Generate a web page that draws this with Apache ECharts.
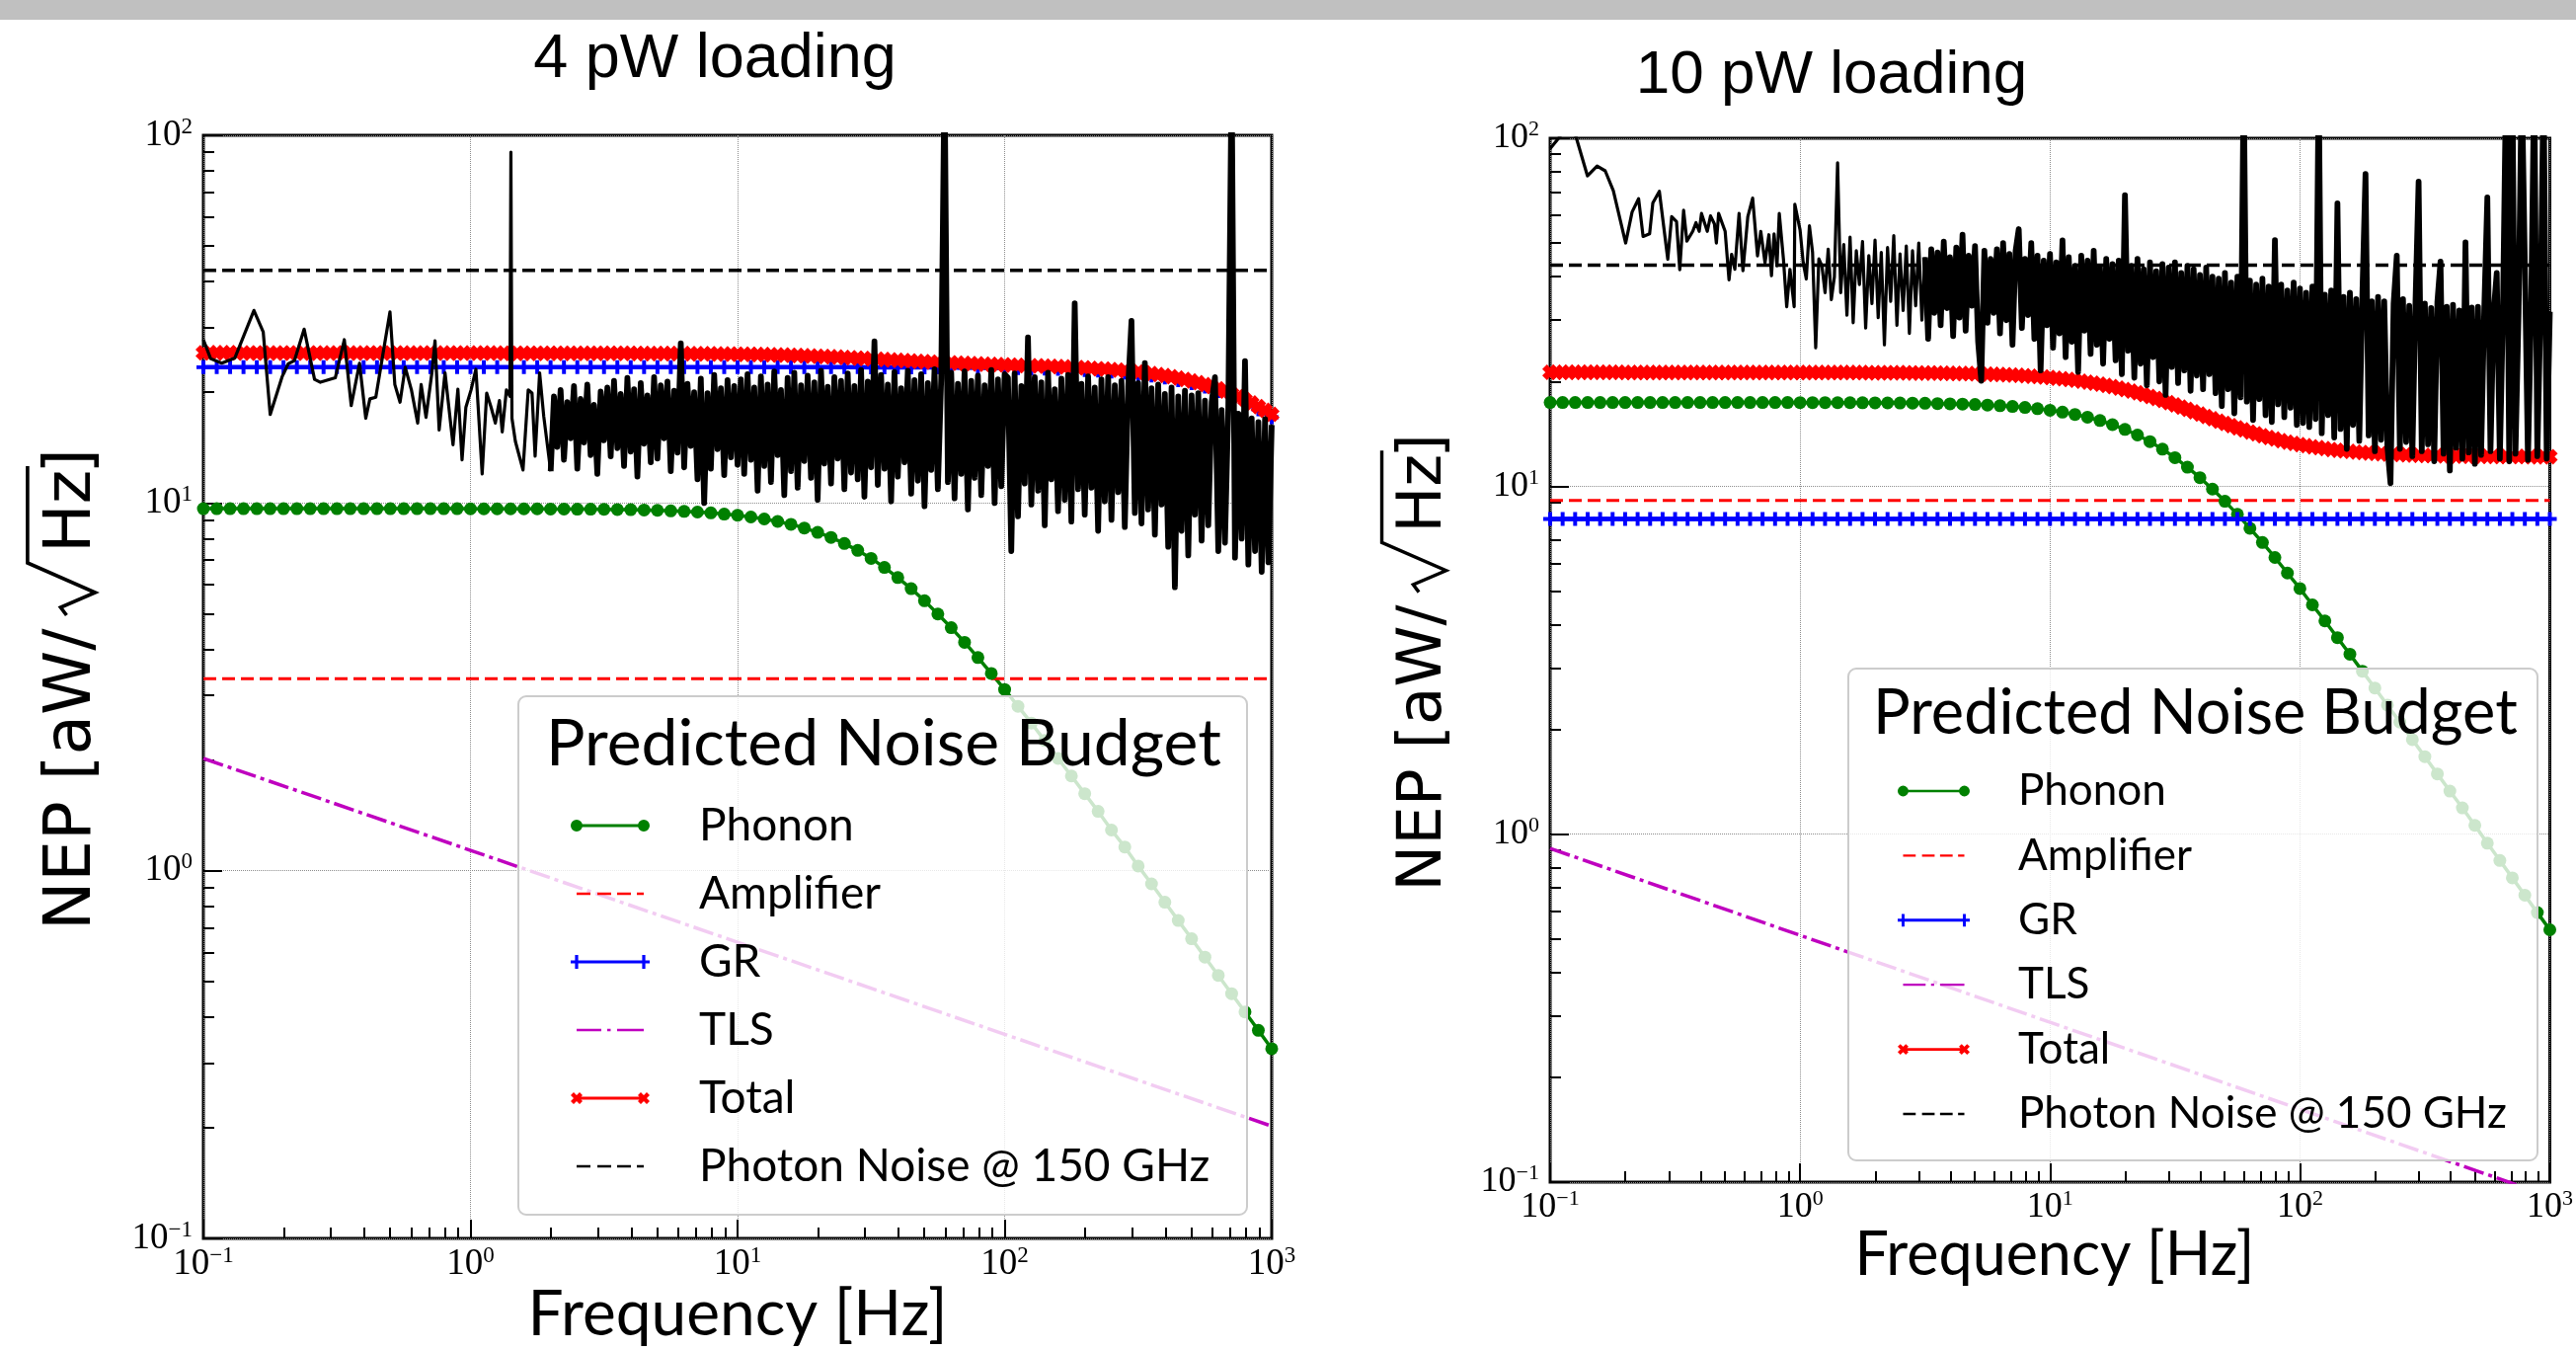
<!DOCTYPE html>
<html><head><meta charset="utf-8">
<script src="https://cdn.jsdelivr.net/npm/echarts@6/dist/echarts.min.js"></script>
<style>html,body{margin:0;padding:0;background:#fff}#c{width:2609px;height:1367px}</style>
</head><body><div id="c"></div><script>
// ---------------- DATA ----------------
const decadeTicks = [0.1, 1, 10, 100, 1000];
const minorTicksX = [0.2,0.3,0.4,0.5,0.6,0.7,0.8,0.9,2,3,4,5,6,7,8,9,20,30,40,50,60,70,80,90,200,300,400,500,600,700,800,900];
const minorTicksY = [0.2,0.3,0.4,0.5,0.6,0.7,0.8,0.9,2,3,4,5,6,7,8,9,20,30,40,50,60,70,80,90];

const freqModel = [
0.1,0.1122,0.1259,0.1413,0.1585,0.1778,0.1995,0.2239,0.2512,0.2818,
0.3162,0.3548,0.3981,0.4467,0.5012,0.5623,0.6310,0.7079,0.7943,0.8913,
1,1.122,1.259,1.413,1.585,1.778,1.995,2.239,2.512,2.818,
3.162,3.548,3.981,4.467,5.012,5.623,6.310,7.079,7.943,8.913,
10,11.22,12.59,14.13,15.85,17.78,19.95,22.39,25.12,28.18,
31.62,35.48,39.81,44.67,50.12,56.23,63.10,70.79,79.43,89.13,
100,112.2,125.9,141.3,158.5,177.8,199.5,223.9,251.2,281.8,
316.2,354.8,398.1,446.7,501.2,562.3,631.0,707.9,794.3,891.3,
1000];

const freqTotal = [
0.1,0.1059,0.1122,0.1189,0.1259,0.1334,0.1413,0.1496,0.1585,0.1679,
0.1778,0.1884,0.1995,0.2113,0.2239,0.2371,0.2512,0.2661,0.2818,0.2985,
0.3162,0.3350,0.3548,0.3758,0.3981,0.4217,0.4467,0.4732,0.5012,0.5309,
0.5623,0.5957,0.6310,0.6683,0.7079,0.7499,0.7943,0.8414,0.8913,0.9441,
1,1.059,1.122,1.189,1.259,1.334,1.413,1.496,1.585,1.679,
1.778,1.884,1.995,2.113,2.239,2.371,2.512,2.661,2.818,2.985,
3.162,3.350,3.548,3.758,3.981,4.217,4.467,4.732,5.012,5.309,
5.623,5.957,6.310,6.683,7.079,7.499,7.943,8.414,8.913,9.441,
10,10.59,11.22,11.89,12.59,13.34,14.13,14.96,15.85,16.79,
17.78,18.84,19.95,21.13,22.39,23.71,25.12,26.61,28.18,29.85,
31.62,33.50,35.48,37.58,39.81,42.17,44.67,47.32,50.12,53.09,
56.23,59.57,63.10,66.83,70.79,74.99,79.43,84.14,89.13,94.41,
100,105.9,112.2,118.9,125.9,133.4,141.3,149.6,158.5,167.9,
177.8,188.4,199.5,211.3,223.9,237.1,251.2,266.1,281.8,298.5,
316.2,335.0,354.8,375.8,398.1,421.7,446.7,473.2,501.2,530.9,
562.3,595.7,631.0,668.3,707.9,749.9,794.3,841.4,891.3,944.1,
1000];

const freqDense = [
1,1.029,1.059,1.090,1.122,1.155,1.189,1.223,1.259,1.296,
1.334,1.372,1.413,1.454,1.496,1.540,1.585,1.631,1.679,1.728,
1.778,1.830,1.884,1.939,1.995,2.054,2.113,2.175,2.239,2.304,
2.371,2.441,2.512,2.585,2.661,2.738,2.818,2.901,2.985,3.073,
3.162,3.255,3.350,3.447,3.548,3.652,3.758,3.868,3.981,4.097,
4.217,4.340,4.467,4.597,4.732,4.870,5.012,5.158,5.309,5.464,
5.623,5.788,5.957,6.131,6.310,6.494,6.683,6.879,7.079,7.286,
7.499,7.718,7.943,8.175,8.414,8.660,8.913,9.173,9.441,9.716,
10,10.29,10.59,10.90,11.22,11.55,11.89,12.23,12.59,12.96,
13.34,13.72,14.13,14.54,14.96,15.40,15.85,16.31,16.79,17.28,
17.78,18.30,18.84,19.39,19.95,20.54,21.13,21.75,22.39,23.04,
23.71,24.41,25.12,25.85,26.61,27.38,28.18,29.01,29.85,30.73,
31.62,32.55,33.50,34.47,35.48,36.52,37.58,38.68,39.81,40.97,
42.17,43.40,44.67,45.97,47.32,48.70,50.12,51.58,53.09,54.64,
56.23,57.88,59.57,61.31,63.10,64.94,66.83,68.79,70.79,72.86,
74.99,77.18,79.43,81.75,84.14,86.60,89.13,91.73,94.41,97.16,
100,102.9,105.9,109.0,112.2,115.5,118.9,122.3,125.9,129.6,
133.4,137.2,141.3,145.4,149.6,154.0,158.5,163.1,167.9,172.8,
177.8,183.0,188.4,193.9,199.5,205.4,211.3,217.5,223.9,230.4,
237.1,244.1,251.2,258.5,266.1,273.8,281.8,290.1,298.5,307.3,
316.2,325.5,335.0,344.7,354.8,365.2,375.8,386.8,398.1,409.7,
421.7,434.0,446.7,459.7,473.2,487.0,501.2,515.8,530.9,546.4,
562.3,578.8,595.7,613.1,631.0,649.4,668.3,687.9,707.9,728.6,
749.9,771.8,794.3,817.5,841.4,866.0,891.3,917.3,944.1,971.6,
1000];

const lineEnds = [0.1, 1000];
const tlsFreq = [0.1, 1, 10, 100, 1000];

// ----- 4 pW loading -----
const phonon4 = [
9.65,9.65,9.65,9.65,9.65,9.65,9.65,9.65,9.65,9.65,
9.65,9.65,9.65,9.65,9.65,9.65,9.65,9.65,9.65,9.65,
9.64,9.64,9.64,9.64,9.64,9.64,9.63,9.63,9.62,9.62,
9.61,9.60,9.59,9.57,9.55,9.52,9.49,9.45,9.40,9.33,
9.26,9.16,9.05,8.91,8.75,8.55,8.32,8.06,7.76,7.43,
7.07,6.68,6.27,5.85,5.42,4.99,4.58,4.18,3.80,3.44,
3.11,2.80,2.52,2.26,2.02,1.81,1.62,1.45,1.29,1.16,
1.03,0.921,0.821,0.732,0.653,0.582,0.519,0.463,0.413,0.368,
0.328];
const gr4 = [
23.4,23.4,23.4,23.4,23.4,23.4,23.4,23.4,23.4,23.4,
23.4,23.4,23.4,23.4,23.4,23.4,23.4,23.4,23.4,23.4,
23.4,23.4,23.4,23.4,23.4,23.4,23.4,23.4,23.4,23.4,
23.4,23.4,23.4,23.4,23.4,23.4,23.4,23.4,23.4,23.4,
23.4,23.4,23.4,23.4,23.4,23.4,23.4,23.4,23.4,23.4,
23.39,23.39,23.38,23.38,23.37,23.37,23.36,23.35,23.34,23.32,
23.30,23.27,23.24,23.20,23.15,23.08,23.00,22.90,22.78,22.63,
22.43,22.21,21.93,21.59,21.19,20.71,20.16,19.52,18.79,17.98,
17.10];
const total4 = [
25.61,25.61,25.60,25.60,25.60,25.60,25.59,25.59,25.59,25.59,
25.59,25.59,25.59,25.58,25.58,25.58,25.58,25.58,25.58,25.57,
25.57,25.57,25.57,25.57,25.57,25.57,25.57,25.57,25.57,25.56,
25.56,25.56,25.56,25.56,25.56,25.56,25.56,25.56,25.56,25.56,
25.56,25.56,25.56,25.56,25.56,25.55,25.55,25.55,25.55,25.55,
25.55,25.54,25.54,25.54,25.54,25.54,25.54,25.53,25.53,25.53,
25.53,25.53,25.53,25.52,25.52,25.51,25.51,25.51,25.50,25.50,
25.49,25.48,25.48,25.47,25.46,25.45,25.44,25.43,25.42,25.40,
25.39,25.37,25.36,25.34,25.32,25.29,25.27,25.24,25.21,25.17,
25.14,25.10,25.06,25.02,24.97,24.93,24.88,24.83,24.77,24.72,
24.66,24.61,24.55,24.50,24.44,24.38,24.33,24.27,24.22,24.17,
24.13,24.08,24.04,24.00,23.96,23.92,23.88,23.84,23.81,23.77,
23.74,23.71,23.68,23.64,23.61,23.58,23.55,23.51,23.48,23.44,
23.39,23.35,23.30,23.24,23.18,23.12,23.06,22.98,22.89,22.80,
22.70,22.59,22.48,22.34,22.20,22.04,21.86,21.67,21.46,21.23,
20.99,20.73,20.44,20.14,19.81,19.46,19.09,18.70,18.29,17.86,
17.42];
const amp4 = [3.33, 3.33];
const photon4 = [42.9, 42.9];
const tls4 = [2.02, 1.136, 0.639, 0.359, 0.202];

const freqLow4 = [
0.1,0.1064,0.1171,0.1312,0.1546,0.1675,0.1779,0.1974,0.2077,0.2193,
0.2384,0.2607,0.2742,0.3118,0.3370,0.3577,0.3842,0.4055,0.4202,0.4421,
0.4693,0.4996,0.5209,0.5448,0.5697,0.6011,0.6344,0.6537,0.6816,0.7170,
0.7366,0.7634,0.8030,0.8603,0.8972,0.9300,0.9610,1.005,1.048,1.106,
1.150,1.195,1.239,1.284,1.315,1.363,1.405,1.417,1.430,1.473,
1.573,1.645,1.700,1.746,1.815,1.881,1.997];
const low4 = [
27.8,24.7,24.0,24.8,33.4,29.2,17.4,22.1,23.9,24.4,
29.7,21.7,21.3,21.9,27.8,18.4,24.0,17.0,19.2,19.4,
25.2,33.1,21.0,18.8,23.4,20.3,16.5,21.0,17.1,22.6,
27.6,15.8,22.6,14.4,20.4,13.1,18.2,20.3,23.1,12.0,
19.9,18.2,16.5,19.0,15.6,20.3,19.5,90,17.0,14.7,
12.3,20.3,19.9,13.4,22.6,17.2,12.2];
// measured NEP on freqDense from 2.054 Hz (index 25) to 1000 Hz
const dense4 = [
19.5,14.2,20.3,13.1,18.8,15.0,20.8,12.4,19.2,14.6,21.0,13.5,18.5,12.0,20.1,14.8,
20.6,13.4,21.5,14.1,19.8,12.6,21.9,13.8,20.4,11.8,21.2,14.5,19.6,12.9,22.0,13.2,20.9,15.0,21.4,12.2,
20.2,13.7,27.2,12.5,21.1,14.3,20.0,11.6,21.8,10.0,19.9,12.4,22.3,14.0,20.5,11.9,21.6,13.3,20.8,12.7,
21.7,12.0,22.4,13.1,20.6,10.8,22.1,12.6,21.0,11.4,22.8,13.5,20.3,10.5,21.9,12.2,22.6,11.0,20.9,13.0,
22.2,11.7,21.3,10.2,22.9,12.8,20.7,11.3,22.0,13.2,21.5,10.9,22.5,12.1,20.8,11.6,23.0,10.4,21.4,12.5,
27.5,11.2,22.3,12.4,21.0,10.1,22.7,11.8,20.5,12.9,22.9,10.6,21.6,11.5,22.4,9.8,21.2,12.3,23.1,10.9,
21.8,150,11.4,22.6,10.3,21.1,12.0,22.8,9.6,21.5,11.7,22.2,10.5,20.9,12.6,23.0,10.0,21.7,11.1,22.4,
21.9,7.4,22.5,9.2,20.8,11.3,28.2,9.9,22.0,10.8,21.3,8.7,22.6,11.6,20.4,9.5,21.8,10.2,22.3,8.9,
34.9,10.9,21.1,9.3,22.1,11.0,20.6,8.4,21.7,10.1,22.0,9.0,20.9,10.7,21.5,8.6,20.7,31.3,9.4,21.2,
8.8,24.0,9.6,20.5,8.2,21.0,9.9,19.8,7.6,20.6,5.9,19.5,8.4,20.2,7.2,19.6,9.3,19.9,7.9,19.0,8.7,18.8,22.0,7.4,
17.9,7.8,18.2,150,7.1,17.5,8.0,24.3,6.8,17.0,7.4,16.6,6.5,16.9,6.9,16.3];

// ----- 10 pW loading -----
const phonon10 = [
17.40,17.40,17.40,17.40,17.40,17.40,17.40,17.40,17.40,17.40,
17.40,17.40,17.40,17.40,17.40,17.40,17.40,17.40,17.40,17.40,
17.39,17.39,17.39,17.38,17.38,17.37,17.36,17.35,17.34,17.33,
17.31,17.28,17.25,17.22,17.17,17.11,17.04,16.95,16.84,16.70,
16.53,16.33,16.08,15.79,15.44,15.03,14.56,14.03,13.43,12.78,
12.08,11.34,10.58,9.81,9.05,8.30,7.57,6.89,6.24,5.63,
5.08,4.56,4.10,3.67,3.29,2.94,2.63,2.35,2.10,1.87,
1.67,1.49,1.33,1.19,1.06,0.942,0.840,0.749,0.668,0.595,
0.531];
const gr10 = [
8.05,8.05,8.05,8.05,8.05,8.05,8.05,8.05,8.05,8.05,
8.05,8.05,8.05,8.05,8.05,8.05,8.05,8.05,8.05,8.05,
8.05,8.05,8.05,8.05,8.05,8.05,8.05,8.05,8.05,8.05,
8.05,8.05,8.05,8.05,8.05,8.05,8.05,8.05,8.05,8.05,
8.05,8.05,8.05,8.05,8.05,8.05,8.05,8.05,8.05,8.05,
8.05,8.05,8.05,8.05,8.05,8.05,8.05,8.05,8.05,8.05,
8.05,8.05,8.05,8.05,8.05,8.05,8.05,8.05,8.05,8.05,
8.05,8.05,8.05,8.05,8.05,8.05,8.05,8.05,8.05,8.05,
8.05];
const total10 = [
21.24,21.24,21.24,21.24,21.24,21.24,21.24,21.24,21.24,21.24,
21.24,21.24,21.23,21.23,21.23,21.23,21.23,21.23,21.23,21.23,
21.23,21.23,21.23,21.23,21.23,21.23,21.23,21.23,21.23,21.23,
21.23,21.23,21.23,21.23,21.23,21.23,21.23,21.23,21.22,21.22,
21.22,21.22,21.22,21.22,21.22,21.21,21.21,21.21,21.21,21.20,
21.20,21.19,21.19,21.19,21.18,21.18,21.18,21.17,21.16,21.16,
21.15,21.14,21.13,21.11,21.10,21.09,21.07,21.06,21.04,21.01,
20.99,20.96,20.93,20.90,20.86,20.82,20.77,20.71,20.66,20.59,
20.52,20.44,20.36,20.26,20.16,20.04,19.92,19.79,19.65,19.49,
19.33,19.15,18.96,18.76,18.56,18.34,18.11,17.87,17.63,17.38,
17.13,16.88,16.62,16.36,16.11,15.86,15.62,15.38,15.15,14.93,
14.71,14.51,14.32,14.14,13.97,13.81,13.66,13.52,13.39,13.28,
13.17,13.07,12.98,12.90,12.82,12.75,12.69,12.64,12.59,12.54,
12.50,12.46,12.43,12.40,12.38,12.35,12.33,12.31,12.29,12.27,
12.26,12.25,12.24,12.23,12.22,12.21,12.21,12.20,12.20,12.19,
12.19,12.18,12.18,12.18,12.17,12.17,12.17,12.16,12.16,12.16,
12.16];
const amp10 = [9.1, 9.1];
const photon10 = [43.2, 43.2];
const tls10 = [0.91, 0.512, 0.288, 0.162, 0.091];

const freqLow10 = [
0.1,0.1093,0.1178,0.1269,0.1410,0.1541,0.1661,0.1790,0.2005,0.2128,
0.2259,0.2355,0.2500,0.2576,0.2735,0.2956,0.3064,0.3204,0.3301,0.3420,
0.3524,0.3720,0.3833,0.3949,0.4033,0.4254,0.4383,0.4543,0.4625,0.4722,
0.5015,0.5197,0.5323,0.5484,0.5701,0.5908,0.6179,0.6461,0.6757,0.6963,
0.7240,0.7504,0.7685,0.7870,0.8085,0.8257,0.8582,0.8842,0.9111,0.9471,
0.9528];
const low10 = [
93.4,101,112,101,78.0,83.2,80.6,70.7,50.0,61.4,
67.0,52.2,53.1,65.2,70.4,44.9,59.5,57.6,41.9,62.1,
50.6,54.0,57.2,54.0,60.8,54.0,59.8,56.7,50.0,60.8,
54.0,39.2,46.4,42.0,60.8,41.6,59.5,67.3,45.9,54.0,
43.9,52.8,40.3,53.1,43.0,60.8,44.9,32.8,42.0,32.8,
64.6];
// measured NEP on freqDense from 1 Hz to 1000 Hz
const dense10 = [
54.5,44.0,39.4,56.0,47.0,25.0,45.0,43.0,36.0,48.0,34.4,40.0,85.0,
36.0,49.5,31.0,52.0,29.5,47.5,38.0,50.5,28.5,46.0,33.5,51.0,30.5,47.0,25.5,48.5,34.0,52.5,29.0,46.5,32.0,49.0,27.5,47.5,33.0,50.0,30.0,45.5,26.5,48.0,31.5,
47.0,29.0,50.5,32.5,45.5,27.0,48.5,30.5,52.8,28.0,46.0,33.0,49.0,26.0,20.1,47.5,29.5,45.0,31.5,48.0,27.5,50.0,30.0,46.5,25.5,47.5,54.8,28.5,45.0,31.0,50.0,26.5,46.0,21.5,44.5,29.0,
46.5,25.0,44.0,27.5,50.9,23.5,45.5,26.0,43.0,21.3,46.0,28.0,44.5,24.0,47.5,25.5,42.5,22.5,45.0,26.5,43.5,
23.0,44.5,21.0,68.6,24.5,43.0,20.5,45.0,22.5,42.0,19.5,44.0,23.5,41.5,20.0,43.5,18.3,42.5,22.0,44.0,19.8,41.0,21.5,43.0,18.8,42.0,20.8,40.5,19.0,42.5,21.0,40.0,
18.5,39.5,17.0,41.0,19.0,38.5,16.2,40.0,18.0,150,17.5,39.0,15.5,38.0,17.8,39.5,16.0,37.5,15.3,51.0,17.2,38.0,15.8,36.5,16.8,38.5,15.0,37.0,
15.2,36.0,14.8,37.5,15.6,150,14.2,35.5,16.0,36.5,13.8,65.0,14.6,35.0,12.8,36.0,15.0,34.5,13.5,35.5,79.0,14.0,34.0,12.6,35.0,
13.6,34.0,13.0,10.2,33.5,46.0,12.8,34.5,13.4,33.0,12.2,34.0,75.0,12.6,33.5,13.2,32.5,11.8,33.8,44.2,12.4,32.8,11.1,33.2,12.9,32.0,12.0,50.2,12.5,32.6,11.6,
32.8,12.3,32.0,67.6,12.6,31.5,41.0,12.0,32.2,150,11.8,150,12.4,31.8,150,44.0,11.9,31.6,150,12.2,31.9,150,12.0,31.7];

const legendNames = ['Phonon','Amplifier','GR','TLS','Total','Photon Noise @ 150 GHz'];

// ---------------- STYLE / BUILD ----------------
const zip = (xs, ys) => xs.map((x, i) => [x, ys[i]]);

const PLUS = 'path://M4.3,0L7.7,0L7.7,4.3L12,4.3L12,7.7L7.7,7.7L7.7,12L4.3,12L4.3,7.7L0,7.7L0,4.3L4.3,4.3Z';
const XMARK = 'path://M3.6,0L12,8.4L8.4,12L0,3.6Z M12,3.6L3.6,12L0,8.4L8.4,0Z';
const ENDS = 'M0,6.95L0.05,6.95L0.05,7.05L0,7.05Z M79.95,6.95L80,6.95L80,7.05L79.95,7.05Z ';
const ICONS = {
  'Phonon': 'path://M6,5.5L74,5.5L74,8.5L6,8.5Z M0,7A6,6 0 1,1 12,7A6,6 0 1,1 0,7Z M68,7A6,6 0 1,1 80,7A6,6 0 1,1 68,7Z',
  'Amplifier': 'path://' + ENDS + 'M6,5.75L20,5.75L20,8.25L6,8.25Z M27,5.75L41,5.75L41,8.25L27,8.25Z M47,5.75L61,5.75L61,8.25L47,8.25Z M67,5.75L74,5.75L74,8.25L67,8.25Z',
  'GR': 'path://M0,5.4L80,5.4L80,8.6L0,8.6Z M4.4,0L7.6,0L7.6,14L4.4,14Z M72.4,0L75.6,0L75.6,14L72.4,14Z',
  'TLS': 'path://' + ENDS + 'M6,5.75L31,5.75L31,8.25L6,8.25Z M37,5.75L40.5,5.75L40.5,8.25L37,8.25Z M47,5.75L74,5.75L74,8.25L47,8.25Z',
  'Total': 'path://M6,5.5L74,5.5L74,8.5L6,8.5Z M3,1L12,10L9,13L0,4Z M12,4L3,13L0,10L9,1Z M71,1L80,10L77,13L68,4Z M80,4L71,13L68,10L77,1Z',
  'Photon Noise @ 150 GHz': 'path://' + ENDS + 'M6,5.75L20,5.75L20,8.25L6,8.25Z M27,5.75L41,5.75L41,8.25L27,8.25Z M47,5.75L61,5.75L61,8.25L47,8.25Z M67,5.75L74,5.75L74,8.25L67,8.25Z'
};
const COLORS = {'Phonon':'#008000','Amplifier':'#ff0000','GR':'#0000ff','TLS':'#bf00bf','Total':'#ff0000','Photon Noise @ 150 GHz':'#000000'};

function fmtPow(v) {
  const e = Math.round(Math.log10(v));
  return '{b|10}{s|' + (e < 0 ? '\u2212' + (-e) : String(e)) + '}';
}
function richFor(fs) {
  return {
    b: {fontFamily:'Liberation Serif', fontSize:fs, color:'#000', lineHeight:fs + 3},
    s: {fontFamily:'Liberation Serif', fontSize:Math.round(fs * 0.62), color:'#000', verticalAlign:'top', lineHeight:Math.round(fs * 0.62) + 1}
  };
}
function mainAxis(g, dir, fs) {
  const isX = dir === 'x';
  return {
    type:'log', logBase:10, gridIndex:g,
    min: isX ? decadeTicks[0] : 0.1, max: isX ? decadeTicks[4] : 100,
    position: isX ? 'bottom' : 'left',
    axisLine:{show:false},
    axisTick:{show:true, inside:true, length:19, lineStyle:{color:'#000', width:2}},
    axisLabel:{show:true, margin: isX ? 6 : 11, formatter:fmtPow, rich:richFor(fs), showMinLabel:true, showMaxLabel:true},
    splitLine:{show:true, lineStyle:{color:'#8c8c8c', width:1, type:'dotted'}},
    minorTick:{show:false}, minorSplitLine:{show:false}, z:1
  };
}
function minorAxis(g, dir) {
  const isX = dir === 'x';
  return {
    type:'log', logBase:10, gridIndex:g,
    min:0.1, max: isX ? 1000 : 100,
    position: isX ? 'bottom' : 'left',
    axisLine:{show:false},
    axisTick:{show:true, inside:true, length:11, customValues: isX ? minorTicksX : minorTicksY, lineStyle:{color:'#000', width:2}},
    axisLabel:{show:false}, splitLine:{show:false}, z:1
  };
}
function buildSeries(ai, set) {
  const base = {type:'line', xAxisIndex:ai, yAxisIndex:ai, silent:true, clip:true};
  return [
    Object.assign({}, base, {name:'Phonon', data:zip(freqModel, set.phonon), symbol:'circle', symbolSize:13,
      lineStyle:{color:COLORS['Phonon'], width:3.5}, itemStyle:{color:COLORS['Phonon'], borderWidth:0}, z:2}),
    Object.assign({}, base, {name:'Amplifier', data:zip(lineEnds, set.amp), symbol:'none',
      lineStyle:{color:'#ff0000', width:3, type:[13,6]}, itemStyle:{color:'#ff0000'}, z:2}),
    Object.assign({}, base, {name:'GR', data:zip(freqModel, set.gr), symbol:PLUS, symbolSize:14,
      lineStyle:{color:'#0000ff', width:4.5}, itemStyle:{color:'#0000ff', borderWidth:0}, z:2}),
    Object.assign({}, base, {name:'TLS', data:zip(tlsFreq, set.tls), symbol:'none',
      lineStyle:{color:'#bf00bf', width:3.5, type:[21,5,4,5]}, itemStyle:{color:'#bf00bf'}, z:2}),
    Object.assign({}, base, {name:'Total', data:zip(freqTotal, set.total), symbol:XMARK, symbolSize:16,
      lineStyle:{color:'#ff0000', width:4.5}, itemStyle:{color:'#ff0000', borderWidth:0}, z:2}),
    Object.assign({}, base, {name:'Photon Noise @ 150 GHz', data:zip(lineEnds, set.photon), symbol:'none',
      lineStyle:{color:'#000', width:3.5, type:[13,6]}, itemStyle:{color:'#000'}, z:2}),
    // measured trace: sparse low-frequency part (thin) and dense FFT part (overplotted -> heavier stroke)
    Object.assign({}, base, {name:set.dataName, data:set.dataLow, symbol:'none',
      lineStyle:{color:'#000', width:3.2, join:'round'}, itemStyle:{color:'#000'}, z:3}),
    Object.assign({}, base, {name:set.dataName + ' ', data:set.dataDense, symbol:'none',
      lineStyle:{color:'#000', width:5.8, join:'round'}, itemStyle:{color:'#000'}, z:3})
  ];
}
const low4Pts = zip(freqLow4, low4);
const dense4Pts = zip(freqDense.slice(25), dense4);
const low10Pts = zip(freqLow10, low10);
const dense10Pts = zip(freqDense, dense10);
const set4 = {phonon:phonon4, amp:amp4, gr:gr4, tls:tls4, total:total4, photon:photon4, dataName:'Measured 4 pW',
  dataLow: low4Pts, dataDense: [low4Pts[low4Pts.length - 1]].concat(dense4Pts)};
const set10 = {phonon:phonon10, amp:amp10, gr:gr10, tls:tls10, total:total10, photon:photon10, dataName:'Measured 10 pW',
  dataLow: low10Pts.concat(dense10Pts.slice(0, 41)), dataDense: dense10Pts.slice(40)};

const legendData = legendNames.map(n => ({name:n, icon:ICONS[n], itemStyle:{color:COLORS[n], borderWidth:0, opacity:1}}));
function legendCfg(left, top, w, h, gap, fs, lh, pad) {
  return {orient:'vertical', left:left, top:top, padding:0, itemWidth:w, itemHeight:h, itemGap:gap,
    symbolKeepAspect:true, selectedMode:false, z:20, backgroundColor:'transparent',
    textStyle:{fontFamily:'Lato', fontSize:fs, color:'#000', lineHeight:lh, padding:[0,0,0,pad]},
    data:legendData};
}
function nepLabel(x, y, s) {
  const ts = {fontFamily:'DejaVu Sans', fontSize:66, fill:'#000', verticalAlign:'middle'};
  return {type:'group', x:x, y:y, rotation:Math.PI/2, scaleX:s, scaleY:s, z:5, children:[
    {type:'text', x:-6, y:-23, style:Object.assign({text:'NEP [aW/', align:'left'}, ts)},
    {type:'polyline', shape:{points:[[313,-29],[321,-35],[336,0],[366,-68.5],[464,-68.5]]}, style:{stroke:'#000', lineWidth:3.6, fill:null, lineJoin:'miter'}},
    {type:'text', x:376, y:-23, style:Object.assign({text:'Hz', align:'left'}, ts)},
    {type:'text', x:482, y:-23, style:Object.assign({text:']', align:'right'}, ts)}
  ]};
}
function txt(x, y, text, family, size, align) {
  return {type:'text', x:x, y:y, z:20, style:{text:text, fontFamily:family, fontSize:size, fill:'#000', align:align || 'center', verticalAlign:'middle'}};
}

const option = {
  animation:false,
  backgroundColor:'#ffffff',
  grid:[
    {left:206, top:137, width:1082, height:1117, show:true, borderColor:'#000', borderWidth:3, backgroundColor:'transparent'},
    {left:1570, top:140, width:1023, height:1057, show:true, borderColor:'#000', borderWidth:3, backgroundColor:'transparent'}
  ],
  xAxis:[mainAxis(0,'x',37), minorAxis(0,'x'), mainAxis(1,'x',36), minorAxis(1,'x')],
  yAxis:[mainAxis(0,'y',37), minorAxis(0,'y'), mainAxis(1,'y',36), minorAxis(1,'y')],
  legend:[
    legendCfg(578, 811, 80, 14, 19, 46, 50, 45),
    legendCfg(1922, 777, 73, 13, 17.4, 44, 48, 44)
  ],
  graphic:[
    {type:'rect', z:0, shape:{x:0, y:0, width:2609, height:20}, style:{fill:'#c0c0c0'}},
    {type:'rect', z:10, shape:{x:525, y:705, width:738, height:525, r:8}, style:{fill:'rgba(255,255,255,0.8)', stroke:'#cccccc', lineWidth:2}},
    {type:'rect', z:10, shape:{x:1872, y:677, width:698, height:498, r:8}, style:{fill:'rgba(255,255,255,0.8)', stroke:'#cccccc', lineWidth:2}},
    txt(553, 754, 'Predicted Noise Budget', 'Lato', 66, 'left'),
    txt(1897, 723, 'Predicted Noise Budget', 'Lato', 63, 'left'),
    txt(724, 61, '4 pW loading', 'Liberation Sans', 63),
    txt(1855, 77, '10 pW loading', 'Liberation Sans', 62),
    txt(747, 1331, 'Frequency [Hz]', 'Lato', 64),
    txt(2081, 1271, 'Frequency [Hz]', 'Lato', 61),
    nepLabel(96.4, 936, 1),
    nepLabel(1464.6, 897, 0.95)
  ],
  series: buildSeries(0, set4).concat(buildSeries(2, set10))
};
const chart = echarts.init(document.getElementById('c'), null, {renderer:'canvas'});
chart.setOption(option);
</script></body></html>
